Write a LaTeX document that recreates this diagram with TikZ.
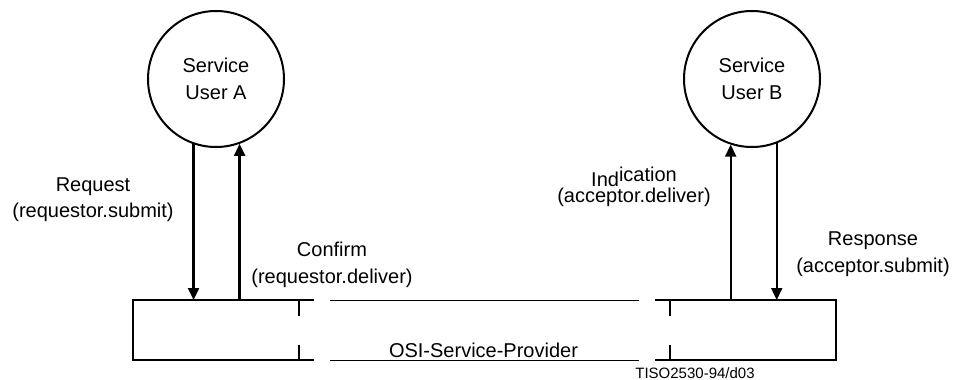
\documentclass[tikz,border=0pt]{standalone}
\usepackage{fontspec}
\setmainfont{Liberation Sans}
\usetikzlibrary{arrows.meta}
\tikzset{
  user/.style={circle, draw, line width=2pt, minimum size=136pt, inner sep=0pt, align=center, font=\fontsize{20}{27}\selectfont},
  lbl/.style={align=center, inner sep=0pt, anchor=base},
  thick line/.style={line width=2.2pt},
  thin line/.style={line width=1pt},
  flow/.style={line width=2.2pt, -{Triangle[length=12pt,width=11pt]}},
}
\begin{document}
\begin{tikzpicture}[x=1pt,y=-1pt]
\useasboundingbox (0,0) rectangle (953,380);
% service users
\node[user] (A) at (216,79) {Service\\User A};
\node[user] (B) at (752,79) {Service\\User B};
% provider box corners
\coordinate (l1) at (314,300); \coordinate (l2) at (133,300);
\coordinate (l3) at (133,360); \coordinate (l4) at (314,360);
\coordinate (lt1) at (299,300); \coordinate (lt2) at (299,316);
\coordinate (lt3) at (299,345); \coordinate (lt4) at (299,360);
\coordinate (m1) at (330,300); \coordinate (m2) at (639,300);
\coordinate (m3) at (330,360); \coordinate (m4) at (639,360);
\coordinate (r1) at (655,300); \coordinate (r2) at (836,300);
\coordinate (r3) at (836,360); \coordinate (r4) at (655,360);
\coordinate (rt1) at (670,300); \coordinate (rt2) at (670,316);
\coordinate (rt3) at (670,345); \coordinate (rt4) at (670,360);
\draw[thick line] (l1) -- (l2) -- (l3) -- (l4);
\draw[thick line] (lt1) -- (lt2) (lt3) -- (lt4);
\draw[thin line] (m1) -- (m2) (m3) -- (m4);
\draw[thick line] (r1) -- (r2) -- (r3) -- (r4);
\draw[thick line] (rt1) -- (rt2) (rt3) -- (rt4);
% primitives
\draw[flow] (A.-109) -- (A.-109 |- l2);
\draw[flow] (A.-70.5 |- l2) -- (A.-70.5);
\draw[flow] (B.-108.3 |- r1) -- (B.-108.3);
\draw[flow] (B.-69.6) -- (B.-69.6 |- r1);
% labels
\node[lbl, font=\fontsize{20}{26}\selectfont] (req) at (93,217) {Request\\(requestor.submit)};
\node[lbl, font=\fontsize{20}{27}\selectfont] (conf) at (332,283) {Confirm\\(requestor.deliver)};
\node[lbl, font=\fontsize{20}{16}\selectfont] (ind) at (634,202) {Ind\raisebox{4.5pt}{ication}\\(acceptor.deliver)};
\node[lbl, font=\fontsize{20}{27}\selectfont] (resp) at (873,272) {Response\\(acceptor.submit)};
\node[lbl, font=\fontsize{20}{24}\selectfont] (osi) at (483.5,357) {OSI-Service-Provider};
\node[lbl, font=\fontsize{15}{18}\selectfont] (fig) at (695,378) {TISO2530-94/d03};
\end{tikzpicture}
\end{document}
